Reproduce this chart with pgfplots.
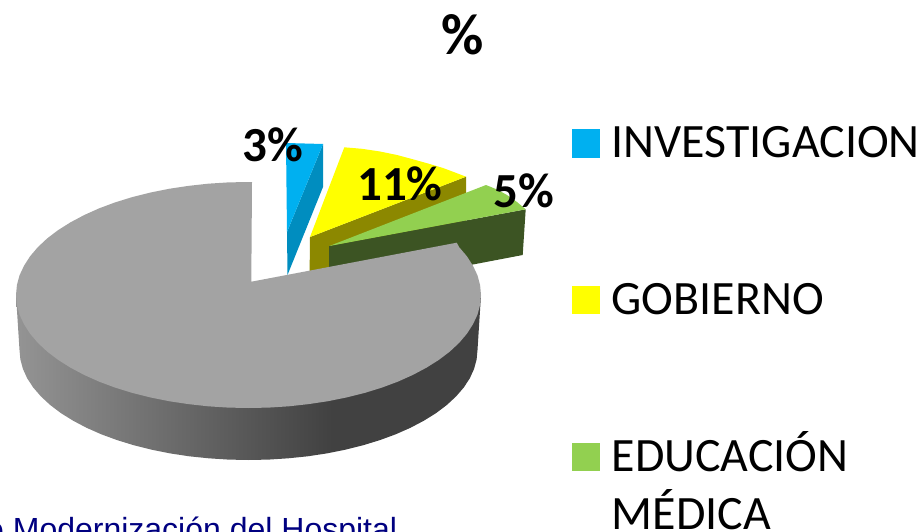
\documentclass[border=0pt]{standalone}
\usepackage{fontspec}
\setmainfont{Carlito}
\newfontfamily\arialf{Liberation Sans}
\usepackage{pgfplots}
\pgfplotsset{compat=1.18}
\definecolor{cblue}{HTML}{00B0F0}
\definecolor{cbluew}{HTML}{008DBF}
\definecolor{cyel}{HTML}{FFFF00}
\definecolor{cyelw}{HTML}{8C8800}
\definecolor{cgrn}{HTML}{92D050}
\definecolor{cgrnw}{HTML}{3C5423}
\definecolor{cgry}{HTML}{A3A3A3}
\definecolor{sa}{HTML}{949494}
\definecolor{sb}{HTML}{414141}
\definecolor{cnavy}{HTML}{000080}
\pgfdeclarehorizontalshading{sideshade}{100bp}{color(0bp)=(sa); color(25bp)=(sa); color(59bp)=(sb); color(100bp)=(sb)}
\begin{document}
\begin{tikzpicture}
\useasboundingbox (0,0) rectangle (923pt,532pt);
\clip (0,0) rectangle (923pt,532pt);
\begin{axis}[at={(0,0)},anchor=south west,scale only axis,width=923pt,height=532pt,
  xmin=0,xmax=923,ymin=0,ymax=532,y dir=reverse,hide axis,enlargelimits=false]
% grey slice, side wall
\addplot[draw=none,shade,shading=sideshade] coordinates {
(16,295)(16.5,303)(19.5,350)(20.4,359.6)(23.0,369.1)(27.3,378.5)(33.3,387.6)(41.0,396.5)(50.2,405)(60.9,413.1)(73.1,420.7)(86.6,427.8)(101.3,434.3)(117.1,440.1)(134,445.3)(151.7,449.7)(170.2,453.4)(189.2,456.3)(208.7,458.3)(228.5,459.6)(248.5,460)(268.5,459.6)(288.3,458.3)(307.8,456.3)(326.8,453.4)(345.3,449.7)(363,445.3)(379.9,440.1)(395.7,434.3)(410.4,427.8)(423.9,420.7)(436.1,413.1)(446.8,405)(456,396.5)(463.7,387.6)(469.7,378.5)(474,369.1)(476.6,359.6)(477.5,350)(481,295)};
% blue slice
\addplot[draw=none,fill=cbluew] coordinates {(323,144)(323,187)(287.5,275)(287,232)};
\addplot[draw=none,fill=cblue] coordinates {(286,143)(323,144)(287,232)};
% yellow slice
\addplot[draw=none,fill=cyelw] coordinates {(310,237)(466,176.7)(466,222)(309.5,282)};
\addplot[draw=none,fill=cyel] coordinates {(310,237)(344.3,147.3)(362,148.8)(380,151.5)(397,155)(413,159.3)(428,163.5)(443,168)(455,172.5)(466,176.7)};
% green slice
\addplot[draw=none,fill=cgrnw] coordinates {(329,246)(525.7,209.3)(522.7,255)(329,292)};
\addplot[draw=none,fill=cgrn] coordinates {(329.3,246)(486,185)(497,189.5)(507,195)(517,202)(525.7,209.3)};
% grey slice, top
\addplot[draw=none,fill=cgry] coordinates {
(251.3,281.7)(252,182)(248.5,182)(228.2,182.4)(208.1,183.7)(188.3,185.9)(169.0,188.8)(150.2,192.6)(132.25,197.1)(115.1,202.4)(99.0,208.4)(84.1,215.1)(70.4,222.4)(58.0,230.2)(47.1,238.5)(37.8,247.2)(30.0,256.4)(24.0,265.8)(19.5,275.4)(16.9,285.1)(16,295)(16.9,304.9)(19.5,314.6)(24.0,324.2)(30,333.6)(37.8,342.8)(47.1,351.5)(58.0,359.8)(70.4,367.6)(84.1,374.9)(99,381.6)(115.1,387.6)(132.25,392.9)(150.2,397.4)(169,401.2)(188.3,404.1)(208.1,406.3)(228.2,407.6)(248.5,408)(268.8,407.6)(288.9,406.3)(308.7,404.1)(328,401.2)(346.8,397.4)(364.75,392.9)(381.9,387.6)(398,381.6)(412.9,374.9)(426.6,367.6)(439.0,359.8)(449.9,351.5)(459.2,342.8)(467,333.6)(473.0,324.2)(477.5,314.6)(480.1,304.9)(481,295)(480.1,285.1)(477.5,275.4)(473.0,265.8)(467,256.4)(459.2,247.2)(456.7,242.7)};
% legend keys
\addplot[only marks,mark=square*,mark size=13.5pt,mark options={draw=cblue,line width=0pt,fill=cblue}] coordinates {(585.5,143.5)};
\addplot[only marks,mark=square*,mark size=13.5pt,mark options={draw=cyel,line width=0pt,fill=cyel}] coordinates {(585.5,299.5)};
\addplot[only marks,mark=square*,mark size=13.5pt,mark options={draw=cgrn,line width=0pt,fill=cgrn}] coordinates {(585.5,456.5)};
% texts
\node[anchor=base,inner sep=0pt,font=\fontsize{58}{58}\selectfont\bfseries] at (axis cs:463,55) {\%};
\node[anchor=base west,inner sep=0pt,font=\fontsize{49}{49}\selectfont\bfseries] at (axis cs:242.5,161.5) {3\%};
\node[anchor=base west,inner sep=0pt,font=\fontsize{49}{49}\selectfont\bfseries] at (axis cs:357,200.5) {11\%};
\node[anchor=base west,inner sep=0pt,font=\fontsize{49}{49}\selectfont\bfseries] at (axis cs:493,207.5) {5\%};
\node[anchor=base west,inner sep=0pt,font=\fontsize{47.9}{47.9}\selectfont] at (axis cs:611.5,157.5) {INVESTIGACION};
\node[anchor=base west,inner sep=0pt,font=\fontsize{47.9}{47.9}\selectfont] at (axis cs:611.5,314) {GOBIERNO};
\node[anchor=base west,inner sep=0pt,font=\fontsize{47.9}{47.9}\selectfont] at (axis cs:611.5,471.5) {EDUCACIÓN};
\node[anchor=base west,inner sep=0pt,font=\fontsize{47.9}{47.9}\selectfont] at (axis cs:611.5,529) {MÉDICA};
\node[anchor=base west,inner sep=0pt,text=cnavy,font=\fontsize{32}{32}\selectfont\arialf] at (axis cs:-14,540) {e Modernización del Hospital};
\end{axis}
\end{tikzpicture}
\end{document}
